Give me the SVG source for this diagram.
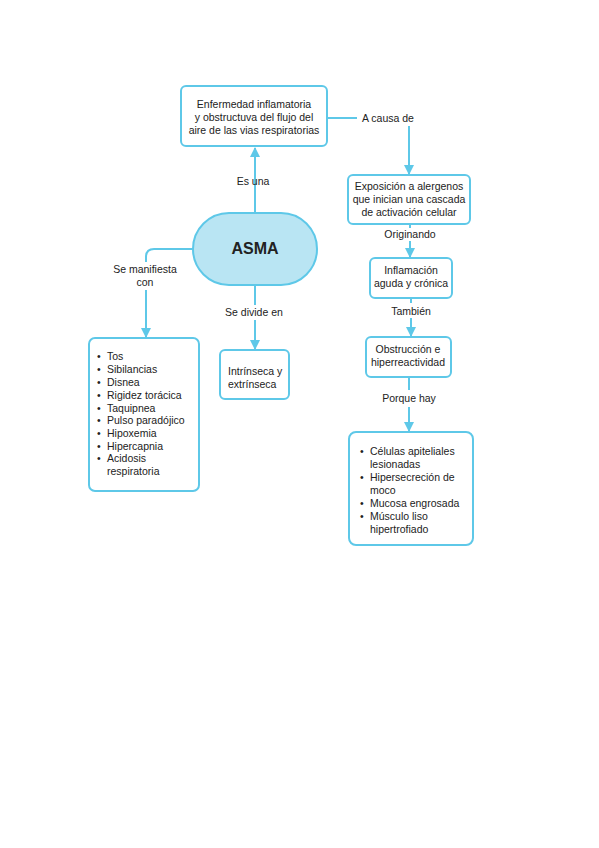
<svg xmlns="http://www.w3.org/2000/svg" width="599" height="848" viewBox="0 0 599 848">
<style>
.box{fill:#ffffff;stroke:#5ec8e8;stroke-width:2}
.ln{fill:none;stroke:#5ec8e8;stroke-width:2}
text{font-family:"Liberation Sans",Arial,sans-serif;font-size:10.5px;fill:#222}
.c{text-anchor:middle}
</style>
<defs>
<marker id="ar" viewBox="0 0 10 10" refX="9" refY="5" markerWidth="5" markerHeight="5" orient="auto-start-reverse">
<path d="M0,0 L10,5 L0,10 z" fill="#5ec8e8"/>
</marker>
</defs>
<rect width="599" height="848" fill="#ffffff"/>
<g id="connectors">
<path class="ln" d="M255,213 V148" marker-end="url(#ar)"/>
<path class="ln" d="M327,118 H357"/>
<path class="ln" d="M409,126 V174" marker-end="url(#ar)"/>
<path class="ln" d="M410,224 V228"/>
<path class="ln" d="M410,241 V257" marker-end="url(#ar)"/>
<path class="ln" d="M411,298 V303"/>
<path class="ln" d="M411,318 V336" marker-end="url(#ar)"/>
<path class="ln" d="M409,377 V390"/>
<path class="ln" d="M409,407 V431" marker-end="url(#ar)"/>
<path class="ln" d="M193,249 H154 Q146,249 146,257 V262"/>
<path class="ln" d="M146,290 V337" marker-end="url(#ar)"/>
<path class="ln" d="M255,285 V305"/>
<path class="ln" d="M255,320 V349" marker-end="url(#ar)"/>
<text class="c" x="253" y="185">Es una</text>
<text x="362" y="122">A causa de</text>
<text class="c" x="410" y="238">Originando</text>
<text class="c" x="411" y="315">También</text>
<text class="c" x="409" y="402">Porque hay</text>
<text class="c" x="145" y="273">Se manifiesta</text>
<text class="c" x="145" y="286">con</text>
<text class="c" x="254" y="316">Se divide en</text>
</g>
<g id="asma">
<rect x="193" y="213" width="124" height="72" rx="36" ry="36" fill="#b9e5f3" stroke="#5ec8e8" stroke-width="2"/>
<text class="c" x="255" y="254" style="font-size:16px;font-weight:bold">ASMA</text>
</g>
<g id="enfermedad">
<rect class="box" x="181" y="86" width="146" height="60" rx="5"/>
<text class="c" x="254" y="108">Enfermedad inflamatoria</text>
<text class="c" x="254" y="121">y obstructuva del flujo del</text>
<text class="c" x="254" y="134">aire de las vias respiratorias</text>
</g>
<g id="exposicion">
<rect class="box" x="348" y="175" width="122" height="49" rx="5"/>
<text class="c" x="409" y="190">Exposición a alergenos</text>
<text class="c" x="409" y="203">que inician una cascada</text>
<text class="c" x="409" y="216">de activación celular</text>
</g>
<g id="inflamacion">
<rect class="box" x="370" y="258" width="82" height="40" rx="5"/>
<text class="c" x="411" y="274">Inflamación</text>
<text class="c" x="411" y="287">aguda y crónica</text>
</g>
<g id="obstruccion">
<rect class="box" x="366" y="337" width="85" height="40" rx="5"/>
<text class="c" x="408" y="353">Obstrucción e</text>
<text class="c" x="408" y="366">hiperreactividad</text>
</g>
<g id="causas">
<rect class="box" x="349" y="432" width="124" height="113" rx="7"/>
<text x="360" y="455">•</text><text x="370" y="455">Células apiteliales</text>
<text x="370" y="468">lesionadas</text>
<text x="360" y="481">•</text><text x="370" y="481">Hipersecreción de</text>
<text x="370" y="494">moco</text>
<text x="360" y="507">•</text><text x="370" y="507">Mucosa engrosada</text>
<text x="360" y="520">•</text><text x="370" y="520">Músculo liso</text>
<text x="370" y="533">hipertrofiado</text>
</g>
<g id="sintomas">
<rect class="box" x="89" y="338" width="110" height="153" rx="6"/>
<text x="97" y="360">•</text><text x="107" y="360">Tos</text>
<text x="97" y="373">•</text><text x="107" y="373">Sibilancias</text>
<text x="97" y="386">•</text><text x="107" y="386">Disnea</text>
<text x="97" y="399">•</text><text x="107" y="399">Rigidez torácica</text>
<text x="97" y="412">•</text><text x="107" y="412">Taquipnea</text>
<text x="97" y="424">•</text><text x="107" y="424">Pulso paradójico</text>
<text x="97" y="437">•</text><text x="107" y="437">Hipoxemia</text>
<text x="97" y="450">•</text><text x="107" y="450">Hipercapnia</text>
<text x="97" y="462">•</text><text x="107" y="462">Acidosis</text>
<text x="107" y="475">respiratoria</text>
</g>
<g id="tipos">
<rect class="box" x="220" y="350" width="69" height="49" rx="5"/>
<text x="228" y="375">Intrínseca y</text>
<text x="228" y="388">extrínseca</text>
</g>
</svg>
